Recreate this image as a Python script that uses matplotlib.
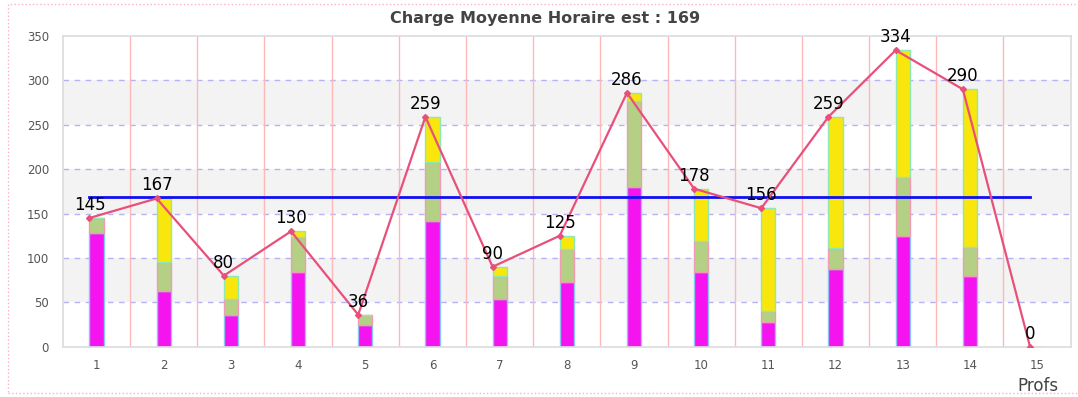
import matplotlib
matplotlib.use("Agg")
import matplotlib.pyplot as plt
from matplotlib.patches import Rectangle
import numpy as np

# Hourly load per teacher, split into three stacked components
profs = list(range(1, 16))
seg_magenta = [128, 63, 36, 84, 24, 142, 54, 73, 180, 84, 28, 87, 125, 80, 0]
seg_green = [17, 32, 18, 40, 12, 66, 26, 37, 97, 35, 12, 24, 66, 32, 0]
seg_yellow = [0, 72, 26, 6, 0, 51, 10, 15, 9, 59, 116, 148, 143, 178, 0]
totals = [145, 167, 80, 130, 36, 259, 90, 125, 286, 178, 156, 259, 334, 290, 0]
y_ticks = [0, 50, 100, 150, 200, 250, 300, 350]

mean_load = round(sum(totals) / len(totals))

fig = plt.figure(figsize=(10.78, 3.97), dpi=100)
ax = fig.add_axes([0.0584, 0.1267, 0.9348, 0.7826])

x = np.array(profs, dtype=float)
mag = np.array(seg_magenta, dtype=float)
grn = np.array(seg_green, dtype=float)
yel = np.array(seg_yellow, dtype=float)

ax.set_xlim(0.5, 15.5)
ax.set_ylim(0, 350)

# alternating background bands
for lo in range(50, 350, 100):
    ax.axhspan(lo, lo + 50, color="#f3f3f3", zorder=0, lw=0)

# dashed horizontal grid
for t in y_ticks[1:-1]:
    ax.axhline(t, color="#b4b4f5", lw=1, ls=(0, (4, 4)), zorder=1)

# category separators
for b in np.arange(1.5, 15.5, 1.0):
    ax.axvline(b, color="#ffb8b8", lw=1, zorder=1)

w = 0.21
ax.bar(x, mag, width=w, color="#f514f0", edgecolor="#8ec4f0", lw=1, zorder=2)
ax.bar(x, grn, width=w, bottom=mag, color="#b4d084", edgecolor="#f09cb4", lw=1, zorder=2)
ax.bar(x, yel, width=w, bottom=mag + grn, color="#f8e60c", edgecolor="#8ee8b4", lw=1, zorder=2)

# total line, anchored on the left edge of each bar
xl = x - w / 2
ax.plot(xl, totals, color="#e8507a", lw=1.6, marker="D", ms=3, zorder=4)

# mean line
ax.plot([xl[0], xl[-1]], [mean_load, mean_load], color="#1010f0", lw=2, zorder=3)

for xi, v in zip(xl, totals):
    ax.annotate(str(v), (xi, v), xytext=(0, 3), textcoords="offset points",
                ha="center", va="bottom", fontsize=12, color="black", zorder=5)

ax.set_xticks(profs)
ax.set_xticklabels([str(p) for p in profs])
ax.set_yticks(y_ticks)
ax.tick_params(axis="both", length=0, labelsize=8.5, colors="#555555")
ax.tick_params(axis="x", pad=9)
ax.tick_params(axis="y", pad=10)
for s in ax.spines.values():
    s.set_color("#dcdcdc")
    s.set_linewidth(1.2)

fig.text(0.506, 0.953, f"Charge Moyenne Horaire est : {mean_load}", ha="center",
         va="center", fontsize=11.5, fontweight="bold", color="#444444")
fig.text(0.963, 0.004, "Profs", ha="center", va="bottom", fontsize=12, color="#444444")

# dotted outer frame
fig.patches.append(Rectangle((8 / 1078, 4 / 397), 1.1, 389 / 397, transform=fig.transFigure,
                             fill=False, ls=":", lw=1, edgecolor="#ffb0c0"))

fig.savefig("out.png", dpi=100)
